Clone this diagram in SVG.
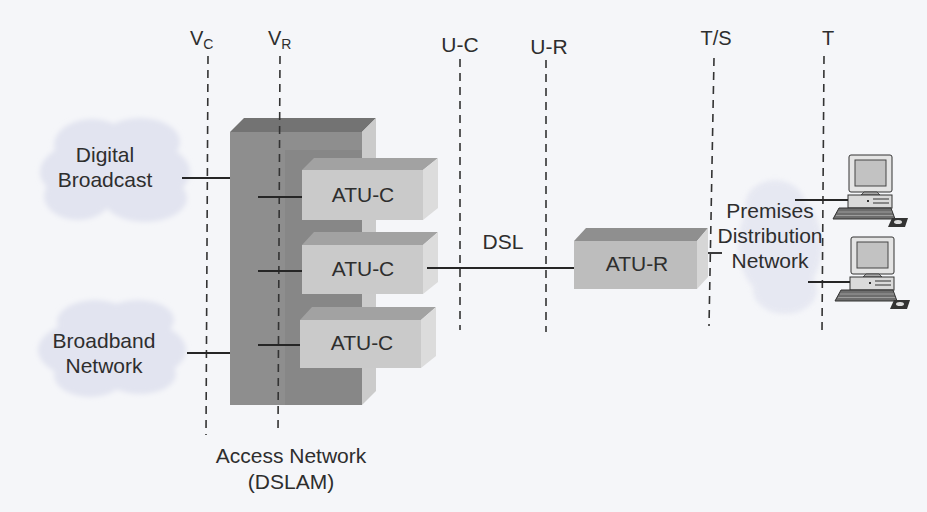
<svg xmlns="http://www.w3.org/2000/svg" width="927" height="512" viewBox="0 0 927 512">
<style>
text{font-family:"Liberation Sans",Arial,sans-serif;fill:#2e2e2e}
.lbl{font-size:21px}
.ref{font-size:20px}
.dash{stroke:#333;stroke-width:1.6;stroke-dasharray:8 6;fill:none}
.wire{stroke:#262626;stroke-width:1.8;fill:none}
.cloud{fill:#e2e4f0;filter:url(#soft)}
.pcline{stroke:#333;stroke-width:1}
</style>
<defs>
<filter id="soft" x="-20%" y="-20%" width="140%" height="140%">
<feGaussianBlur stdDeviation="2.5"/>
</filter>
<g id="pc">
<rect x="0" y="0" width="43" height="37" rx="2" fill="#e4e4e4" stroke="#333" stroke-width="1"/>
<rect x="6" y="5" width="31" height="26" fill="#c2c2c2" stroke="#444" stroke-width="1"/>
<path d="M15 37 L28 37 L31 40 L12 40 Z" fill="#aaa" stroke="#333" stroke-width="0.8"/>
<rect x="-1" y="40" width="44" height="13" fill="#dadada" stroke="#333" stroke-width="1"/>
<line x1="24" y1="44" x2="40" y2="44" class="pcline"/>
<line x1="24" y1="48" x2="40" y2="48" class="pcline"/>
<rect x="18" y="45" width="2" height="2" fill="#333"/>
<polygon points="-10,53 42,53 46,64 -16,64" fill="#6d6d6d" stroke="#333" stroke-width="1"/>
<line x1="-11" y1="57" x2="43" y2="57" stroke="#aaa" stroke-width="0.8"/>
<line x1="-13" y1="60.5" x2="44" y2="60.5" stroke="#aaa" stroke-width="0.8"/>
<polygon points="43,63 59,63 56,72 39,72" fill="#333"/>
<ellipse cx="49" cy="67" rx="4" ry="2" fill="#ddd"/>
</g>
</defs>
<rect width="927" height="512" fill="#f5f6f9"/>

<g id="cloud-digital-broadcast">
<g class="cloud">
<ellipse cx="115" cy="172" rx="75" ry="36"/>
<ellipse cx="92" cy="145" rx="38" ry="26"/>
<ellipse cx="140" cy="142" rx="40" ry="24"/>
<ellipse cx="78" cy="196" rx="34" ry="24"/>
<ellipse cx="145" cy="198" rx="42" ry="24"/>
</g>
<text class="lbl" x="105" y="162" text-anchor="middle">Digital</text>
<text class="lbl" x="105" y="187" text-anchor="middle">Broadcast</text>
</g>

<g id="cloud-broadband-network">
<g class="cloud">
<ellipse cx="112" cy="350" rx="74" ry="34"/>
<ellipse cx="95" cy="322" rx="38" ry="22"/>
<ellipse cx="138" cy="320" rx="36" ry="20"/>
<ellipse cx="90" cy="375" rx="36" ry="22"/>
<ellipse cx="140" cy="374" rx="36" ry="20"/>
</g>
<text class="lbl" x="104" y="348" text-anchor="middle">Broadband</text>
<text class="lbl" x="104" y="373" text-anchor="middle">Network</text>
</g>

<g id="dslam">
<polygon points="230,132 244,118 376,118 362,132" fill="#737373"/>
<polygon points="362,132 376,118 376,391 362,405" fill="#cbcbcb"/>
<rect x="230" y="132" width="132" height="273" fill="#8e8e8e"/>
<rect x="285" y="150" width="77" height="255" fill="#878787"/>
<text class="lbl" x="291" y="463" text-anchor="middle">Access Network</text>
<text class="lbl" x="291" y="489" text-anchor="middle">(DSLAM)</text>
</g>

<g id="atu-c-1">
<polygon points="302,170 314,158 438,158 423,170" fill="#a2a2a2"/>
<polygon points="423,170 438,158 438,208 423,220" fill="#dcdcdc"/>
<rect x="302" y="170" width="121" height="50" fill="#cacaca"/>
<text class="lbl" x="363" y="202" text-anchor="middle">ATU-C</text>
</g>
<g id="atu-c-2">
<polygon points="302,245 314,232 438,232 423,245" fill="#a2a2a2"/>
<polygon points="423,245 438,232 438,282 423,294" fill="#dcdcdc"/>
<rect x="302" y="245" width="121" height="49" fill="#cacaca"/>
<text class="lbl" x="363" y="276" text-anchor="middle">ATU-C</text>
</g>
<g id="atu-c-3">
<polygon points="300,320 312,307 436,307 421,320" fill="#a2a2a2"/>
<polygon points="421,320 436,307 436,356 421,368" fill="#dcdcdc"/>
<rect x="300" y="320" width="121" height="48" fill="#cacaca"/>
<text class="lbl" x="362" y="350" text-anchor="middle">ATU-C</text>
</g>

<g id="atu-r">
<polygon points="574,241 586,228 708,228 697,241" fill="#8f8f8f"/>
<polygon points="697,241 708,228 708,277 697,289" fill="#d6d6d6"/>
<rect x="574" y="241" width="123" height="48" fill="#bdbdbd"/>
<text class="lbl" x="637" y="271" text-anchor="middle">ATU-R</text>
</g>

<g id="premises-distribution-network">
<g class="cloud" opacity="0.75">
<ellipse cx="780" cy="245" rx="42" ry="55"/>
<ellipse cx="775" cy="205" rx="30" ry="25"/>
<ellipse cx="785" cy="290" rx="32" ry="24"/>
</g>
<text class="lbl" x="770" y="218" text-anchor="middle">Premises</text>
<text class="lbl" x="770" y="243" text-anchor="middle">Distribution</text>
<text class="lbl" x="770" y="268" text-anchor="middle">Network</text>
</g>

<g id="pc-1"><use href="#pc" transform="translate(849,155)"/></g>
<g id="pc-2"><use href="#pc" transform="translate(851,237)"/></g>

<g id="reference-points">
<text class="ref" x="190" y="45">V<tspan font-size="14" dy="4">C</tspan></text>
<text class="ref" x="268" y="45">V<tspan font-size="14" dy="4">R</tspan></text>
<text class="lbl" x="460" y="52" text-anchor="middle">U-C</text>
<text class="lbl" x="549" y="54" text-anchor="middle">U-R</text>
<text class="ref" x="716" y="45" text-anchor="middle">T/S</text>
<text class="ref" x="828" y="45" text-anchor="middle">T</text>
<line class="dash" x1="208" y1="56" x2="206" y2="435"/>
<line class="dash" x1="280" y1="56" x2="278" y2="433"/>
<line class="dash" x1="460" y1="59" x2="460" y2="330"/>
<line class="dash" x1="546" y1="60" x2="546" y2="332"/>
<line class="dash" x1="714" y1="58" x2="709" y2="326"/>
<line class="dash" x1="824" y1="56" x2="822" y2="332"/>
</g>

<g id="connectors">
<line class="wire" x1="182" y1="178" x2="230" y2="178"/>
<line class="wire" x1="187" y1="353" x2="230" y2="353"/>
<line class="wire" x1="258" y1="197" x2="302" y2="197"/>
<line class="wire" x1="258" y1="271" x2="302" y2="271"/>
<line class="wire" x1="258" y1="345" x2="300" y2="345"/>
<line class="wire" x1="427" y1="268" x2="574" y2="268"/>
<text class="lbl" x="503" y="249" text-anchor="middle">DSL</text>
<line class="wire" x1="708" y1="253" x2="722" y2="253"/>
<line class="wire" x1="795" y1="200" x2="848" y2="200"/>
<line class="wire" x1="808" y1="282" x2="850" y2="282"/>
</g>
</svg>
